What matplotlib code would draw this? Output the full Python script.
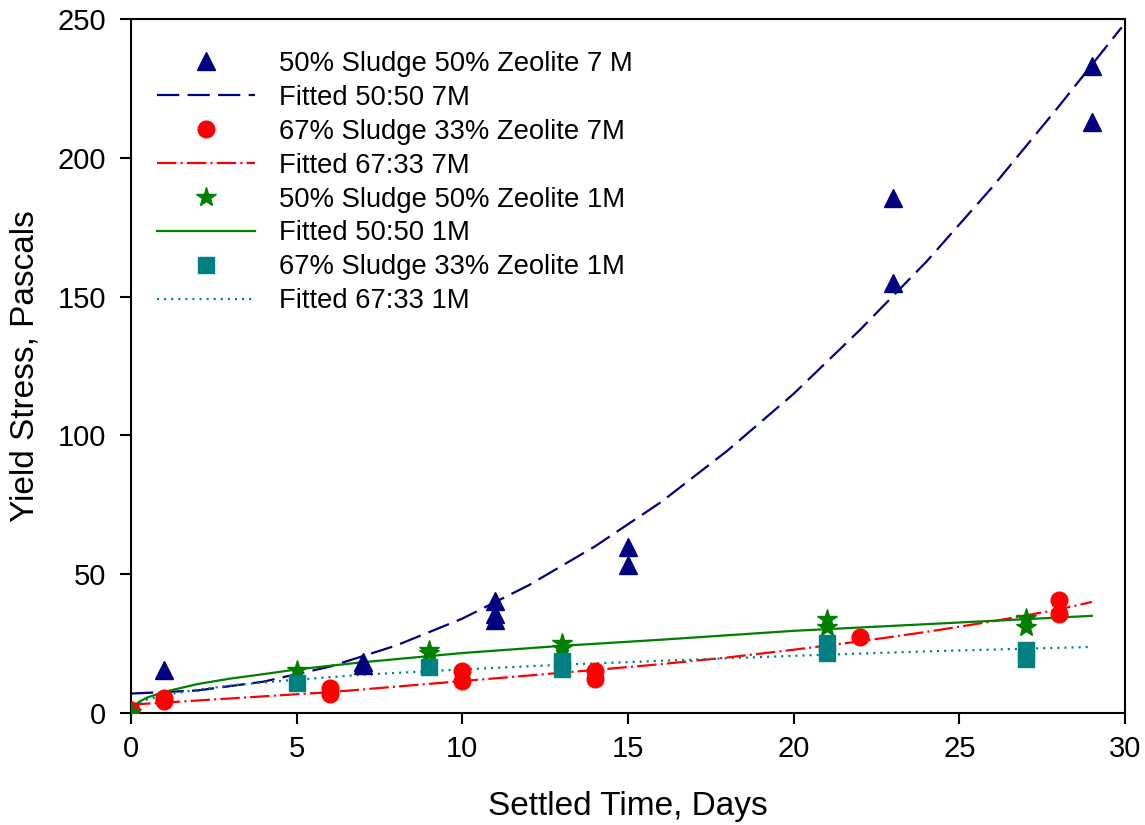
import matplotlib
matplotlib.use('Agg')
import matplotlib.pyplot as plt

plt.rcParams['font.family'] = ['Liberation Sans', 'DejaVu Sans']
plt.rcParams['lines.scale_dashes'] = False

# measured points
days_5050_7m = [0, 1, 7, 7, 11, 11, 11, 15, 15, 23, 23, 29, 29]
ys_5050_7m = [1, 15.5, 17.3, 18.5, 40.5, 35.5, 33.5, 59.8, 53.3, 185.5, 155, 233, 213]

days_6733_7m = [0, 1, 1, 6, 6, 10, 10, 14, 14, 22, 28, 28]
ys_6733_7m = [1, 4.5, 5.5, 9, 6.8, 15.1, 11.6, 15.1, 12.3, 27.2, 40.8, 35.8]

days_5050_1m = [0, 5, 9, 9, 13, 13, 21, 21, 27, 27]
ys_5050_1m = [0.5, 15.5, 22.7, 21.5, 25.2, 23.5, 33.8, 31, 34.4, 31]

days_6733_1m = [5, 9, 13, 13, 21, 21, 27, 27]
ys_6733_1m = [10.8, 16.6, 18.6, 16, 25.2, 21.5, 22.7, 19.6]

# fitted curves
fit_x_5050_7m = [0, 2, 4, 6, 8, 10, 12, 14, 16, 18, 20, 22, 24, 26, 28, 29.9]
fit_y_5050_7m = [7.0, 8.1, 11.3, 16.7, 24.3, 34, 46, 60, 76, 94.5, 115, 138, 162.5, 189.5, 218.5, 247]

fit_x_6733_7m = [0, 2, 4, 6, 8, 10, 12, 14, 16, 18, 20, 22, 24, 26, 28, 29]
fit_y_6733_7m = [3, 4.5, 6, 7.5, 9.5, 11.5, 13.5, 15.5, 17.6, 20, 22.8, 25.8, 29.2, 33, 37.3, 40]

fit_x_5050_1m = [0, 0.1, 0.25, 0.5, 1, 2, 3, 4, 5, 7, 10, 13, 16, 20, 24, 29]
fit_y_5050_1m = [0, 2.7, 4.1, 5.6, 7.6, 10.4, 12.4, 14, 15.7, 18.3, 21.6, 24.2, 26.4, 29.6, 32, 35]

fit_x_6733_1m = [0.25, 0.5, 1, 2, 3, 4, 5, 7, 10, 13, 16, 20, 24, 29]
fit_y_6733_1m = [3.8, 4.9, 6.4, 8.4, 9.9, 11, 12, 13.8, 15.7, 17.4, 18.8, 20.6, 22.2, 23.8]

navy = '#000080'
red = '#ff0000'
green = '#008000'
teal = '#008080'

fig = plt.figure(figsize=(11.45, 8.25), dpi=100)
ax = fig.add_axes([131 / 1145, 1 - 713 / 825, 994 / 1145, 694 / 825])

ax.plot(days_5050_7m, ys_5050_7m, '^', color=navy, ms=13, ls='none',
        label='50% Sludge 50% Zeolite 7 M', zorder=3)
ax.plot(fit_x_5050_7m, fit_y_5050_7m, color=navy, lw=1.6, dashes=(16, 6),
        label='Fitted 50:50 7M')
ax.plot(days_6733_7m, ys_6733_7m, 'o', color=red, ms=12, ls='none',
        label='67% Sludge 33% Zeolite 7M', zorder=3)
ax.plot(fit_x_6733_7m, fit_y_6733_7m, color=red, lw=1.6, dashes=(14, 3, 1.5, 3),
        label='Fitted 67:33 7M')
ax.plot(days_5050_1m, ys_5050_1m, '*', color=green, ms=15, ls='none',
        label='50% Sludge 50% Zeolite 1M', zorder=3)
ax.plot(fit_x_5050_1m, fit_y_5050_1m, color=green, lw=1.6, label='Fitted 50:50 1M')
ax.plot(days_6733_1m, ys_6733_1m, 's', color=teal, ms=12, ls='none',
        label='67% Sludge 33% Zeolite 1M', zorder=3)
ax.plot(fit_x_6733_1m, fit_y_6733_1m, color=teal, lw=1.6, dashes=(1.5, 3.6),
        label='Fitted 67:33 1M')

ax.set_xlim(0, 30)
ax.set_ylim(0, 250)
ax.set_xticks([0, 5, 10, 15, 20, 25, 30])
ax.set_yticks([0, 50, 100, 150, 200, 250])
ax.tick_params(direction='out', length=8, width=1.5, labelsize=21, pad=8)
ax.tick_params(axis='y', pad=10)
for s in ax.spines.values():
    s.set_linewidth(1.5)

ax.set_xlabel('Settled Time, Days', fontsize=24, labelpad=20)
ax.set_ylabel('Yield Stress, Pascals', fontsize=24, labelpad=12)

ax.legend(loc='upper left', bbox_to_anchor=(0.015, 0.97), frameon=False,
          fontsize=19.7, handlelength=3.6, handletextpad=0.85, labelspacing=0.29,
          borderaxespad=0, numpoints=1)

fig.savefig('out.png', dpi=100)
